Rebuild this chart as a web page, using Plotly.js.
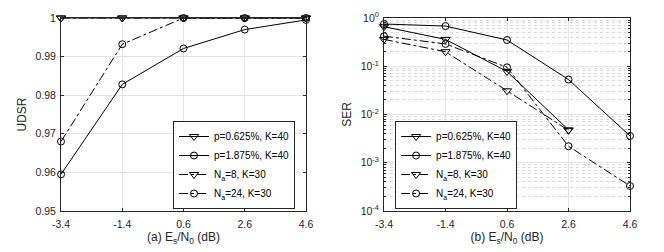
<!DOCTYPE html>
<html><head><meta charset="utf-8">
<script src="https://cdn.plot.ly/plotly-3.0.1.min.js"></script>
<style>body{margin:0;padding:0;background:#fff}#chart{width:664px;height:252px}</style>
</head><body><div id="chart"></div>
<script>
const snr = [-3.4, -1.4, 0.6, 2.6, 4.6];
const snrLabels = ['-3.4', '-1.4', '0.6', '2.6', '4.6'];
const seriesNames = ['p=0.625%, K=40', 'p=1.875%, K=40', 'N<sub>a</sub>=8, K=30', 'N<sub>a</sub>=24, K=30'];
// (a) UDSR
const udsrP0625 = [1, 1, 1, 1, 1];
const udsrP1875 = [0.9595, 0.9828, 0.9921, 0.9970, 0.9995];
const udsrNa8 = [1, 1, 1, 1, 1];
const udsrNa24 = [0.968, 0.9932, 1, 1, 1];
// (b) SER
const serP0625 = [0.66, 0.36, 0.078, 0.0048];
const serP1875 = [0.75, 0.68, 0.35, 0.053, 0.0036];
const serNa8 = [0.36, 0.2, 0.031, 0.0047];
const serNa24 = [0.42, 0.29, 0.095, 0.0022, 0.00033];
const udsrTicks = [0.95, 0.96, 0.97, 0.98, 0.99, 1];
const udsrTickText = ['0.95', '0.96', '0.97', '0.98', '0.99', '1'];
const serTicks = [1e-4, 1e-3, 1e-2, 1e-1, 1];
const serTickText = ['10<sup>-4</sup>', '10<sup>-3</sup>', '10<sup>-2</sup>', '10<sup>-1</sup>', '10<sup>0</sup>'];

const styles = [
  {dash: 'solid', symbol: 'triangle-down-open'},
  {dash: 'solid', symbol: 'circle-open'},
  {dash: 'dashdot', symbol: 'triangle-down-open'},
  {dash: 'dashdot', symbol: 'circle-open'}
];
function tr(x, y, i, xa, ya, leg) {
  return {
    x: x, y: y, type: 'scatter', mode: 'lines+markers', name: seriesNames[i],
    xaxis: xa, yaxis: ya, legend: leg, cliponaxis: false,
    line: {color: '#000', width: 1, dash: styles[i].dash},
    marker: {symbol: styles[i].symbol, size: styles[i].symbol.startsWith('tri') ? 8 : 7,
             color: '#000', line: {color: '#000', width: 1}}
  };
}
const data = [
  tr(snr, udsrP0625, 0, 'x', 'y', 'legend'),
  tr(snr, udsrP1875, 1, 'x', 'y', 'legend'),
  tr(snr, udsrNa8, 2, 'x', 'y', 'legend'),
  tr(snr, udsrNa24, 3, 'x', 'y', 'legend'),
  tr(snr.slice(0, serP0625.length), serP0625, 0, 'x2', 'y2', 'legend2'),
  tr(snr, serP1875, 1, 'x2', 'y2', 'legend2'),
  tr(snr.slice(0, serNa8.length), serNa8, 2, 'x2', 'y2', 'legend2'),
  tr(snr, serNa24, 3, 'x2', 'y2', 'legend2')
];
const ff = 'Liberation Sans, Arial, sans-serif';
const font = {family: ff, size: 10.5, color: '#262626'};
const titleFont = {family: ff, size: 12, color: '#262626'};
const gridc = '#e3e3e3';
function xax(dom, anchor, letter) {
  return {
    domain: dom, anchor: anchor, range: [-3.4, 4.6], tickvals: snr, ticktext: snrLabels,
    showgrid: true, gridcolor: gridc, gridwidth: 1, zeroline: false,
    showline: true, linecolor: '#262626', linewidth: 1, mirror: 'ticks',
    ticks: 'inside', ticklen: 3, tickcolor: '#262626', tickfont: font, ticklabelstandoff: 3,
    title: {text: '(' + letter + ') E<sub>s</sub>/N<sub>0</sub> (dB)', font: titleFont, standoff: 4}
  };
}
function leg(x, xanchor) {
  return {x: x, y: 0.1706, xanchor: xanchor, yanchor: 'bottom', bgcolor: '#fff',
          bordercolor: '#262626', borderwidth: 1, font: {family: ff, size: 10, color: '#000'},
          tracegroupgap: 0, itemwidth: 30};
}
const layout = {
  width: 664, height: 252, margin: {l: 0, r: 0, t: 0, b: 0},
  paper_bgcolor: '#fff', plot_bgcolor: '#fff', font: font, showlegend: true,
  xaxis: xax([0.0919, 0.4608], 'y', 'a'),
  xaxis2: xax([0.5783, 0.9488], 'y2', 'b'),
  yaxis: {
    domain: [0.1627, 0.9286], anchor: 'x', range: [0.95, 1], tickvals: udsrTicks, ticktext: udsrTickText,
    showgrid: true, gridcolor: gridc, zeroline: false,
    showline: true, linecolor: '#262626', linewidth: 1, mirror: 'ticks',
    ticks: 'inside', ticklen: 3, tickcolor: '#262626', tickfont: font, ticklabelstandoff: 2,
    title: {text: 'UDSR', font: titleFont, standoff: 6}
  },
  yaxis2: {
    domain: [0.1627, 0.9286], anchor: 'x2', type: 'log', range: [-4, 0], tickvals: serTicks, ticktext: serTickText,
    showgrid: true, gridcolor: gridc, zeroline: false,
    showline: true, linecolor: '#262626', linewidth: 1, mirror: 'ticks',
    ticks: 'inside', ticklen: 3, tickcolor: '#262626', tickfont: font, ticklabelstandoff: 2,
    minor: {showgrid: true, gridcolor: '#d9d9d9', griddash: 'dot', gridwidth: 1, ticks: 'inside', ticklen: 2, tickcolor: '#262626', dtick: 'D1'},
    title: {text: 'SER', font: titleFont, standoff: 6}
  },
  legend: leg(0.4443, 'right'),
  legend2: leg(0.595, 'left')
};
Plotly.newPlot('chart', data, layout, {displayModeBar: false, staticPlot: true});
</script></body></html>
